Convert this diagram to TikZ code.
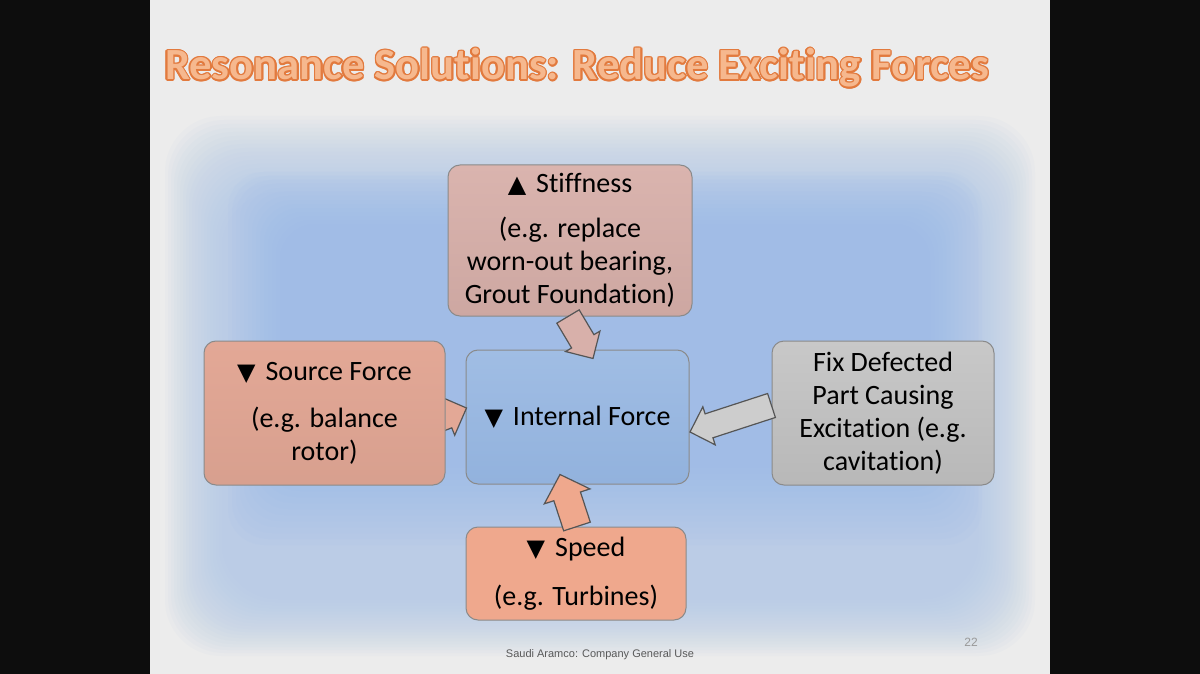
\documentclass[tikz,border=0pt]{standalone}
\usepackage{fontspec}
\setmainfont{Carlito}[Ligatures=NoCommon]
\newfontfamily\symfont{DejaVu Sans}
\newfontfamily\footfont{Liberation Sans}
\usetikzlibrary{calc,positioning}

\definecolor{slidebg}{RGB}{236,236,236}
\definecolor{glowblue}{RGB}{176,200,230}
\definecolor{innerblue}{RGB}{148,184,230}
\definecolor{titlefill}{RGB}{246,184,142}
\definecolor{titleline}{RGB}{226,122,62}
\definecolor{boxline}{RGB}{138,138,138}
\definecolor{arrowgray}{RGB}{85,85,85}
\definecolor{stiffpink}{RGB}{216,176,170}
\definecolor{srcsalmon}{RGB}{227,168,150}
\definecolor{intblue}{RGB}{160,189,228}
\definecolor{intblue2}{RGB}{146,178,221}
\definecolor{fixgray}{RGB}{200,200,200}
\definecolor{speedsalmon}{RGB}{239,168,141}

\newcommand{\uptri}{{\symfont\fontsize{12}{12}\selectfont ▲}\hspace{5pt}}
\newcommand{\downtri}{{\symfont\fontsize{12}{12}\selectfont ▼}\hspace{5pt}}
\newcommand{\titletext}{Resonance Solutions: Reduce Exciting Forces}

% block arrow: [style]{from}{to}{shaft half}{head half}{head length}
\newcommand{\blockarrow}[6][]{%
  \coordinate (ba-base) at ($(#3)!#6!(#2)$);
  \filldraw[arrowline,#1] ($(#2)!#4!90:(#3)$) -- ($(ba-base)!#4!-90:(#2)$)
    -- ($(ba-base)!#5!-90:(#2)$) -- (#3) -- ($(ba-base)!#5!90:(#2)$)
    -- ($(ba-base)!#4!90:(#2)$) -- ($(#2)!#4!-90:(#3)$) -- cycle;}

\begin{document}
\begin{tikzpicture}[x=0.5pt,y=-0.5pt,
    box/.style={draw=boxline, line width=0.5pt, rounded corners=6pt, align=center,
      inner sep=0pt, font=\fontsize{14}{16.5}\selectfont},
    arrowline/.style={draw=arrowgray, line width=0.6pt, line join=miter},
    titlefont/.style={font=\fontsize{22.3}{24}\bfseries, anchor=base, inner sep=0pt}]
  \useasboundingbox (0,0) rectangle (1200,674);

  % slide and side bars
  \fill[black!95] (0,0) rectangle (150,674);
  \fill[black!95] (1050,0) rectangle (1200,674);
  \fill[slidebg] (150,0) rectangle (1050,674);

  % soft blue glow
  \foreach \i in {0,...,19}
    \fill[glowblue, opacity=0.065, rounded corners=28pt]
      (165+3*\i,116+4*\i) rectangle (1035-3*\i,656-3*\i);
  \foreach \i in {0,...,13}
    \fill[innerblue, opacity=0.06, rounded corners=18pt]
      (228+4*\i,172+4*\i) rectangle (982-4*\i,545-6*\i);

  % title with outline
  \coordinate (titlepos) at (577,80);
  \foreach \a in {0,30,...,330}
    \node[titlefont, text=titleline] at ($(titlepos)+(\a:0.8pt)$) {\titletext};
  \node[titlefont, text=titlefill] (title) at (titlepos) {\titletext};

  % boxes
  \node[box, top color=stiffpink!95!white, bottom color=stiffpink!95!black,
    minimum width=122pt, minimum height=75.5pt] (stiff) at (570,240.5)
    {\uptri Stiffness\\[6pt] (e.g. replace\\ worn-out bearing,\\ Grout Foundation)};
  \node[box, top color=intblue, bottom color=intblue2,
    minimum width=111.5pt, minimum height=67pt] (intf) at (577.5,417)
    {\downtri Internal Force};
  \node[box, top color=fixgray, bottom color=fixgray!92!black,
    minimum width=111pt, minimum height=72pt] (fix) at (883,413)
    {Fix Defected\\ Part Causing\\ Excitation (e.g.\\ cavitation)};
  \node[box, fill=speedsalmon, minimum width=110pt, minimum height=46.5pt]
    (speed) at (576,573.5) {\downtri Speed\\[8pt] (e.g. Turbines)};

  % arrow into internal force from the source box (tail hidden)
  \coordinate (src-tail) at ($(intf.west)+(-47,10)$);
  \coordinate (src-tip) at ($(intf.west)+(1,-9)$);
  \blockarrow[fill=srcsalmon]{src-tail}{src-tip}{6.5pt}{10.5pt}{10.5pt}

  \node[box, top color=srcsalmon, bottom color=srcsalmon!95!black,
    minimum width=120.5pt, minimum height=72pt] (src) at (324.5,413)
    {\downtri Source Force\\[7pt] (e.g. balance\\ rotor)};

  % other arrows
  \coordinate (stiff-tail) at ($(stiff.south)+(-2,0)$);
  \coordinate (stiff-tip) at ($(intf.north)+(15.5,9)$);
  \blockarrow[fill=stiffpink]{stiff-tail}{stiff-tip}{6.5pt}{10pt}{10pt}

  \coordinate (fix-tail) at ($(fix.west)+(0,-7.5)$);
  \coordinate (fix-tip) at ($(intf.east)+(0.5,15)$);
  \blockarrow[fill=fixgray!90!white]{fix-tail}{fix-tip}{6.3pt}{10pt}{10pt}

  \coordinate (speed-tail) at ($(speed.north)+(1,0)$);
  \coordinate (speed-tip) at ($(intf.south)+(-17.5,-10)$);
  \blockarrow[fill=speedsalmon]{speed-tail}{speed-tip}{7pt}{12pt}{11.5pt}

  % footer
  \node[font=\footfont\fontsize{5.5}{6}\selectfont, text=black!65] (footer)
    at (600,655) {Saudi Aramco: Company General Use};
  \node[font=\footfont\fontsize{6}{7}\selectfont, text=black!40] (pageno)
    at (971,642) {22};
\end{tikzpicture}
\end{document}
